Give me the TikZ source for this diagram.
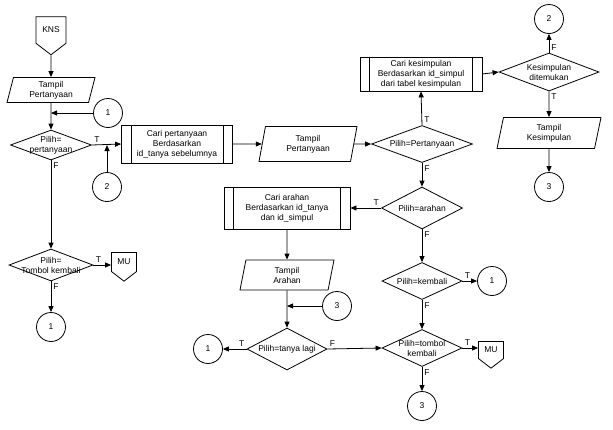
\documentclass[tikz,border=0pt]{standalone}
\usepackage{fontspec}
\setmainfont{Liberation Sans}
\usetikzlibrary{shapes.geometric,shapes.symbols,arrows.meta}
\begin{document}
\begin{tikzpicture}[x=1pt, y=-1pt, line width=0.8pt,
  every node/.style={font=\fontsize{8.5}{10}\selectfont},
  io/.style={trapezium, trapezium left angle=72, trapezium right angle=108, trapezium stretches body, draw, align=center, inner sep=1pt},
  proc/.style={rectangle, draw, align=center, inner sep=1pt},
  dec/.style={diamond, draw, inner sep=0pt},
  conn/.style={circle, draw, minimum size=29pt, inner sep=0pt},
  offp/.style={signal, signal to=south, signal pointer angle=105, draw, inner sep=1pt},
  arr/.style={-{Triangle[length=6pt,width=5pt]}},
  tf/.style={inner sep=2pt}]
\useasboundingbox (0,0) rectangle (613,429);
% kiri
\node[offp, minimum width=30pt, minimum height=34pt] (kns) at (51,30){KNS};
\node[io, minimum width=88pt, minimum height=25pt] (tampilTanya) at (51,90){Tampil\\Pertanyaan};
\node[conn] (c1a) at (108,113){1};
\node[dec, minimum width=81pt, minimum height=30pt, label={[align=center]center:{Pilih=\\pertanyaan}}] (pilTanya) at (51,145){};
\node[conn] (c2a) at (107,187){2};
\node[dec, minimum width=84pt, minimum height=32pt, label={[align=center]center:{Pilih=\\Tombol kembali}}] (pilKembali) at (51,265){};
\node[offp, minimum width=25pt, minimum height=25pt] (mu1) at (124,262){MU};
\node[conn] (c1b) at (51,327){1};
% tengah
\node[proc, minimum width=111pt, minimum height=38pt] (cariTanya) at (177,144){Cari pertanyaan\\Berdasarkan\\id\_tanya sebelumnya};
\node[io, minimum width=98pt, minimum height=35pt] (tampilTanya2) at (308,144){Tampil\\Pertanyaan};
\node[dec, minimum width=101pt, minimum height=37pt, label={center:Pilih=Pertanyaan}] (pilPert) at (422,144){};
\node[proc, minimum width=122pt, minimum height=34pt] (cariSimpul) at (421,74){Cari kesimpulan\\Berdasarkan id\_simpul\\dari tabel kesimpulan};
\node[dec, minimum width=100pt, minimum height=38pt, label={[align=center]center:{Kesimpulan\\ditemukan}}] (kesDitemu) at (549,72){};
\node[conn] (c2b) at (549,19){2};
\node[io, minimum width=104pt, minimum height=31pt] (tampilSimpul) at (549,133){Tampil\\Kesimpulan};
\node[conn] (c3a) at (549,187){3};
\node[dec, minimum width=81pt, minimum height=42pt, label={center:Pilih=arahan}] (pilArah) at (422,208){};
\node[proc, minimum width=126pt, minimum height=42pt] (cariArah) at (287,208){Cari arahan\\Berdasarkan id\_tanya\\dan id\_simpul};
\node[io, minimum width=94pt, minimum height=30pt] (tampilArah) at (287,275){Tampil\\Arahan};
\node[conn] (c3b) at (337,306){3};
\node[dec, minimum width=80pt, minimum height=42pt, label={center:Pilih=tanya lagi}] (pilLagi) at (287,349){};
\node[conn] (c1c) at (208,349){1};
\node[dec, minimum width=80pt, minimum height=37pt, label={center:Pilih=kembali}] (pilKembali2) at (422,281){};
\node[conn] (c1d) at (492,281){1};
\node[dec, minimum width=80pt, minimum height=37pt, label={[align=center]center:{Pilih=tombol\\kembali}}] (pilTombol) at (422,348){};
\node[offp, minimum width=25pt, minimum height=23pt] (mu2) at (491,350){MU};
\node[conn] (c3c) at (422,406){3};
% garis batas proses
\foreach \n in {cariTanya,cariSimpul,cariArah}{
  \draw ([xshift=10pt]\n.north west) -- ([xshift=10pt]\n.south west);
  \draw ([xshift=-10pt]\n.north east) -- ([xshift=-10pt]\n.south east);
}
% panah
\draw[arr] (kns.south) -- (tampilTanya.north);
\draw[arr] (tampilTanya.south) -- (pilTanya.north);
\draw[arr] (c1a.west) -- (c1a.west -| tampilTanya.south);
\draw[arr] (pilTanya.east) -- node[tf, above right, pos=0]{T} (cariTanya.west);
\draw[arr] (c2a.north) -- (c2a |- pilTanya.east);
\draw[arr] (pilTanya.south) -- node[tf, below right, pos=0]{F} (pilKembali.north);
\draw[arr] (pilKembali.east) -- node[tf, above right, pos=0]{T} (pilKembali.east -| mu1.west);
\draw[arr] (pilKembali.south) -- node[tf, below right, pos=0]{F} (c1b.north);
\draw[arr] (cariTanya.east) -- (tampilTanya2.west);
\draw[arr] (tampilTanya2.east) -- (pilPert.west);
\draw[arr] (pilPert.north) -- node[tf, above right, pos=0]{T} (cariSimpul.south);
\draw[arr] (cariSimpul.east) -- (kesDitemu.west);
\draw[arr] (kesDitemu.north) -- node[tf, above right, pos=0]{F} (c2b.south);
\draw[arr] (kesDitemu.south) -- node[tf, below right, pos=0]{T} (tampilSimpul.north);
\draw[arr] (tampilSimpul.south) -- (c3a.north);
\draw[arr] (pilPert.south) -- node[tf, below right, pos=0]{F} (pilArah.north);
\draw[arr] (pilArah.west) -- node[tf, above left, pos=0]{T} (cariArah.east);
\draw[arr] (pilArah.south) -- node[tf, below right, pos=0]{F} (pilKembali2.north);
\draw[arr] (pilKembali2.east) -- node[tf, above right, pos=0]{T} (c1d.west);
\draw[arr] (pilKembali2.south) -- node[tf, below right, pos=0]{F} (pilTombol.north);
\draw[arr] (pilTombol.east) -- node[tf, above right, pos=0]{T} (pilTombol.east -| mu2.west);
\draw[arr] (pilTombol.south) -- node[tf, below right, pos=0]{F} (c3c.north);
\draw[arr] (cariArah.south) -- (tampilArah.north);
\draw[arr] (tampilArah.south) -- (pilLagi.north);
\draw[arr] (c3b.west) -- (c3b.west -| tampilArah.south);
\draw[arr] (pilLagi.west) -- node[tf, above left, pos=0]{T} (c1c.east);
\draw[arr] (pilLagi.east) -- node[tf, above right, pos=0]{F} (pilTombol.west);
\end{tikzpicture}
\end{document}
